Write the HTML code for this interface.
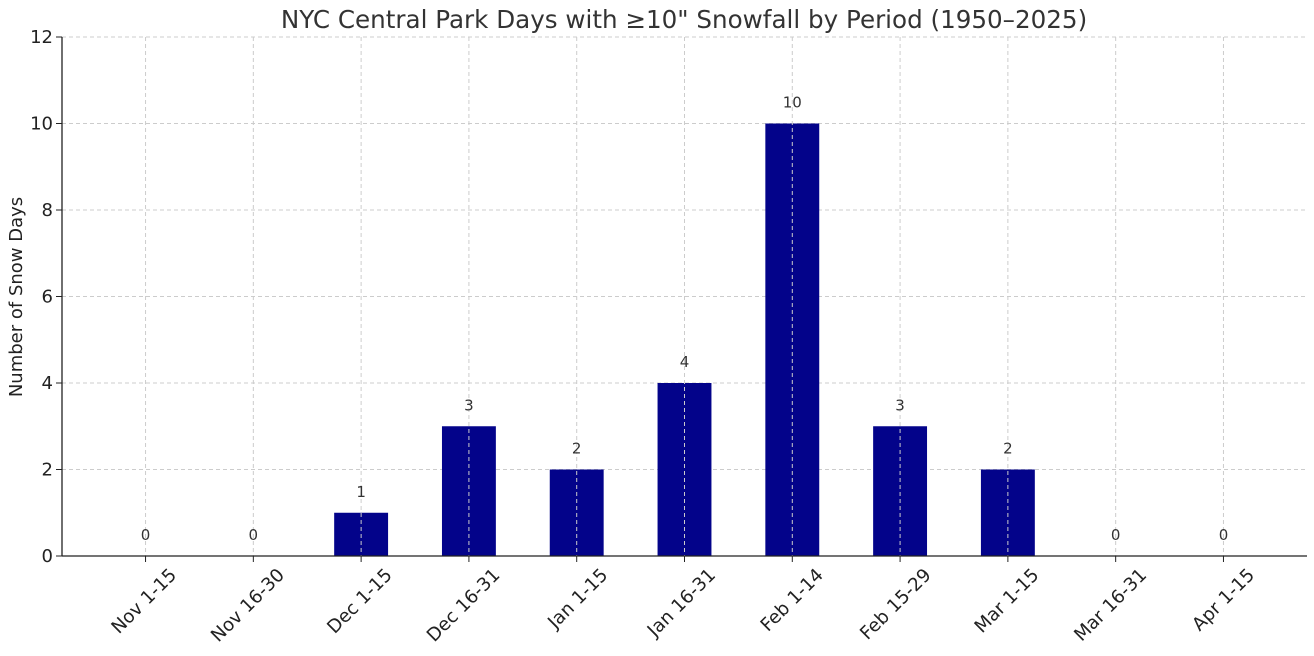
<!DOCTYPE html>
<html><head><meta charset="utf-8"><style>
body{margin:0;background:#fff;}
svg text{font-family:"DejaVu Sans","Liberation Sans",sans-serif;}
</style></head><body>
<svg id="chart" width="1314" height="651" xmlns="http://www.w3.org/2000/svg">
<text x="684" y="28" text-anchor="middle" font-size="24.6" fill="#333">NYC Central Park Days with ≥10" Snowfall by Period (1950–2025)</text>
<text transform="translate(22,297) rotate(-90)" text-anchor="middle" font-size="18" fill="#222">Number of Snow Days</text>
<g id="grid"></g><g id="bars"></g><g id="labels"></g><g id="axes"></g>
</svg>
<script>
const categories=["Nov 1-15","Nov 16-30","Dec 1-15","Dec 16-31","Jan 1-15","Jan 16-31","Feb 1-14","Feb 15-29","Mar 1-15","Mar 16-31","Apr 1-15"];
const values=[0,0,1,3,2,4,10,3,2,0,0];
const yTicks=[0,2,4,6,8,10,12];
const NS="http://www.w3.org/2000/svg";
const L=62,R=1307,T=37,B=556,yMax=12;
const xMin=-0.775,xMax=categories.length-1+0.775;
const x=i=>L+(i-xMin)/(xMax-xMin)*(R-L);
const y=v=>B-v/yMax*(B-T);
const bw=0.5*(R-L)/(xMax-xMin);
function mk(tag,attrs,parent,txt){const e=document.createElementNS(NS,tag);for(const k in attrs)e.setAttribute(k,attrs[k]);if(txt!==undefined)e.textContent=txt;document.getElementById(parent).appendChild(e);return e;}
yTicks.forEach(t=>{
 const g=mk('line',{x1:L,x2:R,y1:y(t),y2:y(t),stroke:'#ccc','stroke-dasharray':'4,3'},'grid');
 
 
 const tk=mk('line',{x1:L-6,x2:L,y1:y(t),y2:y(t),stroke:'#222'},'axes');
 
 
 const tl=mk('text',{x:L-9,y:y(t)+6,'text-anchor':'end','font-size':18,fill:'#222'},'axes',t);
 
 
});
categories.forEach((c,i)=>{
 const cx=x(i);
 const b=mk('rect',{x:cx-bw/2,y:y(values[i]),width:bw,height:B-y(values[i]),fill:'#03038a'},'bars');
 
 
 const g=mk('line',{x1:cx,x2:cx,y1:T,y2:B,stroke:'#ccc','stroke-dasharray':'4,3'},'labels');
 
 
 const v=mk('text',{x:cx,y:y(values[i])-16,'text-anchor':'middle','font-size':15,fill:'#333'},'labels',values[i]);
 
 
 const tk=mk('line',{x1:cx,x2:cx,y1:B,y2:B+6,stroke:'#222'},'axes');
 
 
 const ax=cx+32,ay=B+20;
 const tl=mk('text',{x:ax,y:ay,'text-anchor':'end','font-size':18.3,fill:'#222',transform:`rotate(-45 ${ax} ${ay})`},'axes',c);
 
 
});
const ax1=mk('line',{x1:L,x2:L,y1:T,y2:B,stroke:'#222','stroke-width':1.3},'axes');


const ax2=mk('line',{x1:L,x2:R,y1:B,y2:B,stroke:'#222','stroke-width':1.3},'axes');


</script>
</body></html>
